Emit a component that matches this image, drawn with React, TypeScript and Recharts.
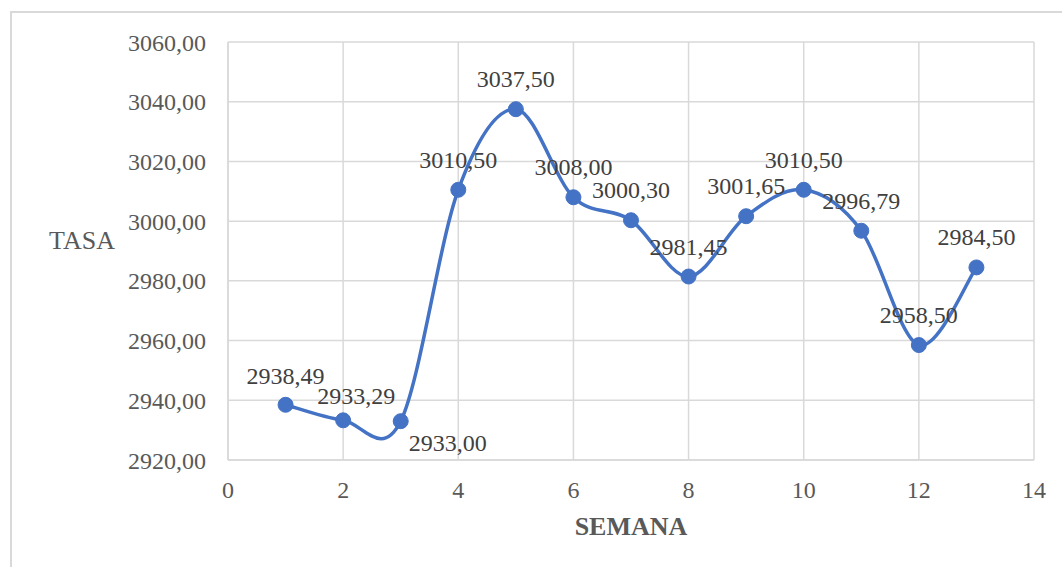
import React from "react";
import {
  LineChart,
  Line,
  XAxis,
  YAxis,
  CartesianGrid,
  LabelList,
} from "recharts";

const semanas = [1, 2, 3, 4, 5, 6, 7, 8, 9, 10, 11, 12, 13];
const tasas = [
  2938.49, 2933.29, 2933.0, 3010.5, 3037.5, 3008.0, 3000.3, 2981.45, 3001.65,
  3010.5, 2996.79, 2958.5, 2984.5,
];
const xTicks = [0, 2, 4, 6, 8, 10, 12, 14];
const yTicks = [2920, 2940, 2960, 2980, 3000, 3020, 3040, 3060];

const data = semanas.map((s, i) => ({ semana: s, tasa: tasas[i] }));

const FONT = '"Liberation Serif", "Times New Roman", serif';
const fmt = (v: number) => v.toFixed(2).replace(".", ",");

// smooth line like the spreadsheet one (catmull-rom as bezier)
function smoothCurve(context: any) {
  let pts: number[][] = [];
  return {
    areaStart() {},
    areaEnd() {},
    lineStart() {
      pts = [];
    },
    point(x: number, y: number) {
      pts.push([+x, +y]);
    },
    lineEnd() {
      const n = pts.length;
      if (!n) return;
      context.moveTo(pts[0][0], pts[0][1]);
      const t = 1 / 6;
      for (let i = 0; i < n - 1; i++) {
        const p0 = pts[Math.max(i - 1, 0)];
        const p1 = pts[i];
        const p2 = pts[i + 1];
        const p3 = pts[Math.min(i + 2, n - 1)];
        context.bezierCurveTo(
          p1[0] + (p2[0] - p0[0]) * t,
          p1[1] + (p2[1] - p0[1]) * t,
          p2[0] - (p3[0] - p1[0]) * t,
          p2[1] - (p3[1] - p1[1]) * t,
          p2[0],
          p2[1]
        );
      }
    },
  };
}

// label nudges, most sit right above the point
const labelShift: Record<number, [number, number]> = {
  0: [0, -29],
  1: [13, -24],
  2: [47, 22],
};

const DataLabel = (props: any) => {
  const { x, y, value, index } = props;
  const [dx, dy] = labelShift[index] || [0, -30];
  return (
    <text
      x={x + dx}
      y={y + dy}
      textAnchor="middle"
      dominantBaseline="central"
      fill="#404040"
      fontSize={24}
      fontFamily={FONT}
    >
      {fmt(value)}
    </text>
  );
};

export default function App() {
  return (
    <div
      style={{
        position: "absolute",
        left: 0,
        top: 0,
        width: 1062,
        height: 567,
        background: "#fff",
        overflow: "hidden",
      }}
    >
      <div
        style={{
          position: "absolute",
          left: 10,
          top: 11,
          width: 1070,
          height: 580,
          border: "2px solid #d9d9d9",
        }}
      />
      <div style={{ position: "absolute", left: 0, top: 0 }}>
        <LineChart
          width={1062}
          height={567}
          data={data}
          margin={{ top: 42, right: 28, bottom: 0, left: 0 }}
        >
          <CartesianGrid stroke="#d9d9d9" strokeWidth={1.5} />
          <XAxis
            dataKey="semana"
            type="number"
            domain={[0, 14]}
            ticks={xTicks}
            height={107}
            tickSize={0}
            tickMargin={21}
            axisLine={{ stroke: "#d9d9d9", strokeWidth: 1.5 }}
            tick={{ fill: "#595959", fontSize: 24, fontFamily: FONT }}
            label={{
              content: ({ viewBox }: any) => (
                <text
                  x={viewBox.x + viewBox.width / 2}
                  y={526}
                  textAnchor="middle"
                  dominantBaseline="central"
                  fill="#595959"
                  fontSize={26}
                  fontWeight="bold"
                  fontFamily={FONT}
                >
                  SEMANA
                </text>
              ),
            }}
          />
          <YAxis
            type="number"
            domain={[2920, 3060]}
            ticks={yTicks}
            width={228}
            tickSize={0}
            tickMargin={22}
            tickFormatter={fmt}
            axisLine={{ stroke: "#d9d9d9", strokeWidth: 1.5 }}
            tick={{ fill: "#595959", fontSize: 24, fontFamily: FONT }}
            label={{
              content: () => (
                <text
                  x={82}
                  y={240}
                  textAnchor="middle"
                  dominantBaseline="central"
                  fill="#595959"
                  fontSize={26}
                  fontFamily={FONT}
                >
                  TASA
                </text>
              ),
            }}
          />
          <Line
            dataKey="tasa"
            type={smoothCurve as any}
            stroke="#4472c4"
            strokeWidth={3.5}
            dot={{ r: 7.5, fill: "#4472c4", stroke: "#4472c4", strokeWidth: 1 }}
            isAnimationActive={false}
          >
            <LabelList dataKey="tasa" content={<DataLabel />} />
          </Line>
        </LineChart>
      </div>
    </div>
  );
}
